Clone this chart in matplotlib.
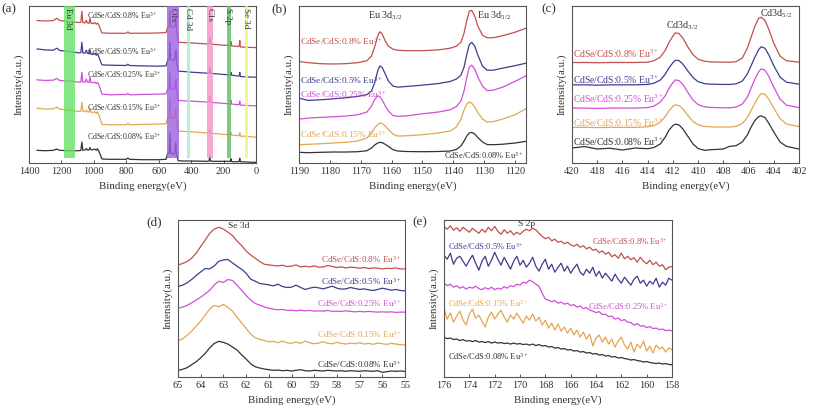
import numpy as np
import matplotlib
matplotlib.use("Agg")
import matplotlib.pyplot as plt

plt.rcParams['font.family'] = ['Liberation Serif', 'DejaVu Serif']
plt.rcParams['mathtext.fontset'] = 'custom'
plt.rcParams['mathtext.rm'] = 'Liberation Serif'
plt.rcParams['mathtext.it'] = 'Liberation Serif:italic'

samples = ['CdSe/CdS:0.8% Eu', 'CdSe/CdS:0.5% Eu', 'CdSe/CdS:0.25% Eu',
           'CdSe/CdS:0.15% Eu', 'CdSe/CdS:0.08% Eu']
colors = ['#c0504d', '#3d3d8f', '#d050d8', '#e2a654', '#333333']

# ---------------- (a) survey ----------------
energy_a = [1350, 1300, 1250, 1228, 1220, 1210, 1150, 1090, 1080, 1074, 1068, 1055, 1046, 1040,
            1030, 1024, 1018, 1005, 995, 985, 978, 970, 962, 950, 900, 800, 790, 780, 700, 600,
            555, 545, 535, 531, 527, 520, 505, 499, 495, 490, 480, 450, 400, 300, 289, 285, 281,
            270, 200, 158, 155, 152, 145, 110, 103, 100, 97, 60, 20, 0]
a_08p = [142.7, 142.3, 142.7, 145.0, 144.0, 142.7, 141.7, 140.7, 141.0, 152.0, 140.7, 140.3, 143.0, 140.3,
         140.0, 145.0, 140.0, 139.7, 140.7, 139.0, 140.3, 138.7, 135.0, 130.3, 130.0, 130.0, 131.3, 130.0, 130.0, 130.3,
         130.7, 136.0, 137.0, 152.0, 137.0, 136.0, 135.7, 138.0, 145.0, 135.0, 121.0, 120.7, 120.3, 119.3, 119.7, 126.0, 119.3,
         119.0, 118.0, 117.7, 121.7, 117.3, 117.3, 116.7, 117.3, 122.7, 116.3, 116.0, 115.7, 115.7]
a_05p = [114.3, 113.3, 113.0, 115.0, 114.0, 112.7, 111.7, 110.3, 110.7, 121.0, 110.3, 110.0, 113.0, 110.0,
         109.3, 113.5, 109.3, 108.7, 109.7, 108.0, 109.3, 106.7, 103.0, 98.3, 98.0, 97.7, 99.0, 97.7, 97.3, 97.0,
         97.3, 103.0, 104.0, 121.0, 104.0, 103.0, 102.7, 105.0, 113.0, 102.0, 92.0, 91.7, 91.0, 90.0, 90.3, 95.0, 90.0,
         89.7, 88.7, 88.3, 91.0, 88.0, 88.0, 87.0, 87.7, 90.7, 86.7, 86.3, 86.0, 86.0]
a_025p = [83.3, 82.7, 83.0, 84.7, 83.7, 82.7, 82.0, 81.0, 81.3, 91.0, 81.0, 81.0, 84.0, 81.0,
          80.7, 86.0, 80.7, 80.3, 81.0, 79.7, 80.7, 78.7, 75.0, 69.0, 68.3, 68.7, 69.7, 68.3, 68.7, 69.0,
          69.3, 74.0, 75.0, 92.0, 75.0, 74.0, 73.7, 76.0, 84.0, 73.0, 62.7, 62.3, 62.0, 61.0, 61.3, 67.0, 61.0,
          60.7, 59.7, 59.3, 63.0, 59.0, 59.0, 58.3, 59.0, 62.0, 58.0, 57.7, 57.3, 57.3]
a_015p = [55.0, 54.0, 54.3, 56.0, 55.0, 54.0, 52.7, 51.7, 52.0, 61.0, 52.0, 51.5, 53.0, 51.3,
          51.0, 55.0, 51.0, 50.5, 51.5, 49.7, 51.3, 48.3, 45.0, 38.7, 38.3, 38.3, 39.7, 38.3, 38.7, 39.0,
          39.3, 45.0, 46.0, 63.3, 46.0, 45.0, 44.7, 47.0, 55.0, 44.0, 32.0, 31.7, 31.3, 30.0, 30.3, 35.0, 30.0,
          29.7, 28.7, 28.3, 30.7, 28.0, 28.0, 27.3, 28.0, 30.3, 27.0, 26.7, 26.0, 26.0]
a_008p = [12.7, 12.3, 12.7, 14.0, 13.3, 12.7, 12.3, 12.3, 12.7, 21.0, 12.7, 13.0, 14.5, 13.0,
          13.0, 15.5, 13.3, 13.3, 14.0, 12.7, 14.3, 12.0, 9.0, 4.0, 3.7, 3.7, 5.0, 3.7, 3.3, 3.3,
          3.7, 9.3, 10.0, 30.7, 11.0, 9.3, 9.0, 12.0, 20.0, 9.0, 2.3, 2.0, 2.0, 1.7, 2.0, 7.3, 2.0,
          1.7, 1.7, 1.7, 4.3, 1.7, 1.3, 1.3, 2.0, 4.7, 1.3, 1.0, 0.7, 0.7]

bands_a = [('Eu 3d', 1185, 1115, '#66e066', 1157), ('O1s', 550, 475, '#9b5fe0', 514),
           ('Cd 3d', 425, 405, '#9ff0c4', 417), ('C1s', 300, 265, '#f295c8', 288),
           ('S 2p', 178, 153, '#5cbf62', 170), ('Se 3d', 67, 48, '#f4f474', 64)]

# ---------------- (b) Eu 3d ----------------
energy_b = [1190, 1187, 1183, 1179, 1175, 1171, 1168, 1166.5, 1165.5, 1164.5, 1163.8, 1163, 1162, 1161,
            1159.5, 1158, 1155, 1150, 1145, 1141, 1139, 1137.5, 1136.5, 1135.5, 1134.8, 1134, 1133,
            1132, 1130.5, 1129, 1127, 1124, 1120, 1116.4]
b_08p = [101.7, 100.5, 99.5, 99.2, 99.5, 100.5, 102.5, 107, 116, 127, 131.5, 129, 122, 117,
         114, 113, 112.5, 112.5, 113.3, 115, 117, 121, 130, 144, 152, 153, 147,
         137, 128, 125.5, 125.5, 127.5, 131, 135]
b_05p = [65.0, 62.7, 63.3, 64.3, 65.3, 66.7, 68.5, 72, 80, 92, 97.3, 95.5, 89, 82,
         77, 76, 76.7, 78, 79.5, 81.7, 84, 88, 96, 110, 118.5, 121, 117,
         108, 97, 93, 93, 95, 97.5, 100]
b_025p = [44.0, 45, 45.7, 46.3, 47, 48.3, 51, 57, 63.5, 67.3, 66.5, 63, 57, 52,
          47.5, 46.7, 47.3, 49.3, 51, 53.3, 56.5, 62, 72, 87, 96, 98, 94,
          86, 77, 72.5, 73, 76, 81.7, 87.3]
b_015p = [18.3, 18.7, 19.3, 20, 20.7, 22, 25, 30, 35, 38.5, 40, 39.5, 37, 33.5,
          29, 27, 27.3, 28.3, 30, 32, 36, 44, 53, 59.5, 61, 60, 56,
          50.5, 44, 41, 41.5, 44, 48.3, 54.3]
b_008p = [10.7, 10.3, 10.7, 11, 11, 11.3, 12.3, 15, 18, 20, 20.7, 20.3, 18.7, 16.5,
          13.3, 12, 11.5, 11.3, 11.5, 12, 13.5, 17, 22, 27.5, 30, 30.7, 29,
          25.5, 21, 18.5, 18.3, 18.8, 20, 21.7]

# ---------------- (c) Cd 3d ----------------
energy_c = [420, 419, 418, 417, 416, 415, 414, 413.5, 413, 412.6, 412.3, 412, 411.8, 411.5, 411.2,
            410.8, 410.4, 410, 409.5, 409, 408, 407.5, 407, 406.5, 406.1, 405.8, 405.5, 405.2,
            405, 404.7, 404.4, 404, 403.5, 403, 402]
c_08p = [100.7, 100.7, 100.5, 100.7, 100.7, 100.7, 101, 102.5, 106, 113, 121, 127, 130.5, 129.5, 125,
         116, 108.5, 104, 102, 101.3, 101, 101, 101.5, 105, 115, 126, 137, 145,
         146, 143, 134, 120, 107, 102.5, 101]
c_05p = [78.3, 78.3, 78, 78.3, 78.3, 78.3, 78.7, 80, 83, 89, 95.5, 100.5, 103, 102.5, 99,
         92, 85.5, 81.5, 79.5, 79, 78.7, 78.7, 79.3, 82, 89, 97.5, 106, 113.5,
         116.5, 115, 108.5, 97.5, 86, 81, 79]
c_025p = [55, 55, 54.7, 55, 55, 55, 55.5, 57, 61, 67.5, 75, 80.5, 83.3, 82.5, 78.5,
          70.5, 63, 58.5, 56.3, 55.7, 55.3, 55.3, 56, 59, 66, 75, 84, 91.5,
          94.3, 93, 87, 76, 64, 58, 55.5]
c_015p = [35.7, 35.7, 35.5, 35.7, 35.7, 35.7, 36.2, 37.5, 41, 46.5, 52.5, 56.8, 58.3, 57.5, 54,
          47.5, 41.5, 38.3, 36.7, 36.2, 36, 36, 36.7, 39.5, 45.5, 52.5, 60, 66.5,
          69.5, 69, 64, 55, 44.5, 39, 36.5]
c_008p = [15, 16.5, 14, 14.8, 13, 15, 14.3, 15.5, 19, 26, 33, 37.5, 39, 38, 34,
          26.5, 19, 14.5, 12.7, 13.3, 14, 16.7, 17.3, 21, 28, 36, 42.5, 46.5,
          47.3, 45.5, 40, 31, 21, 16.7, 14]

# ---------------- (d) Se 3d (65 -> 55 eV, 0.2 eV steps) ----------------
d_08p = [112.3, 113.7, 115.7, 119, 124, 130.7, 137.3, 144, 148.3, 150, 148.3, 145, 141.7, 136.3, 131.7,
         126.3, 122.3, 119, 115.7, 113, 112.3, 111.7, 111.3, 112, 110.7, 111, 112.3, 110.3, 111, 110.3,
         111.3, 110, 110.3, 111.7, 110.7, 109.7, 110.3, 109.3, 110, 109.7, 109, 109.7, 108.7, 109.3,
         109, 108.3, 109, 108.7, 109.3, 108.3, 108.3]
d_05p = [90.7, 92, 94.3, 97.7, 101.7, 105.3, 108.7, 108.3, 111.3, 116, 117.3, 117.7, 114.3, 111, 108,
         104, 98, 96, 93.7, 93, 92.3, 91.3, 93, 90.7, 89.7, 90, 92, 89.7, 87.7, 89,
         90, 89.3, 88.3, 89.7, 91, 89, 88, 88.3, 89.7, 88.7, 87.7, 88.3, 87.3, 86.7,
         87.7, 89, 88, 87, 87.7, 86.7, 86.3]
d_025p = [69, 70, 71.7, 74.3, 77, 80, 83.3, 87, 92.3, 96, 94.7, 97.7, 96.7, 92, 87,
          81.7, 77, 73.7, 72, 70.3, 69, 68, 67.3, 67.7, 66.7, 67, 66.3, 67, 66.3, 66.7,
          66, 66.3, 66, 66.7, 65.7, 66, 65.7, 66.3, 65.7, 65.3, 65.7, 65.3, 65.7, 65.3,
          65, 65.3, 65, 65.3, 64.7, 65, 65]
d_015p = [36.3, 38.3, 41.7, 46, 51, 56, 62, 68.3, 71.7, 70.3, 72.7, 69.7, 66, 60, 54.3,
          48.7, 43, 39.3, 37.7, 36.7, 35.3, 35.7, 34.3, 36, 34.3, 33.7, 35, 33.7, 36, 34.3,
          33.3, 34, 35.3, 33.7, 33.3, 34.7, 33.7, 33, 34, 33.3, 34.3, 33, 33.7, 32.7,
          34, 33.3, 32.7, 33.7, 33, 32.3, 32.3]
d_008p = [6.7, 7.7, 9.3, 12.3, 15.3, 19.3, 23.7, 29.3, 33.7, 35.7, 34.7, 33, 30, 27, 22.3,
          18, 13.3, 10.3, 9, 8, 7.3, 6.7, 7, 6.3, 6.7, 6, 6.7, 7.3, 6.3, 6,
          6.7, 6.3, 6, 6.7, 6.3, 6, 6.3, 5.7, 6.3, 6, 5.7, 6.3, 6, 5.7,
          6.3, 4.7, 5.3, 6, 5.7, 6, 5.7]

# ---------------- (e) S 2p (176 -> 158 eV, 0.25 eV steps) ----------------
e_08p = [150.7, 148, 151.5, 147, 149.5, 146, 150, 147.5, 145, 149, 146.5, 144, 148, 145, 150, 146.5,
         151, 146, 143, 147.5, 144, 146.5, 142.5, 145, 143, 146, 148, 146.5, 149, 147.5, 144, 141,
         138.5, 140, 136.5, 138, 135, 136, 133.5, 135, 132.5, 131, 133, 130, 131.5, 128.5, 130, 127,
         128, 124.5, 126.5, 123, 125, 120.5, 122.5, 119, 124, 118.5, 121, 117.5, 119.5, 115, 120, 116,
         113.5, 117, 112.5, 115, 111, 112.5, 107.5, 110, 110.7]
e_05p = [122, 118, 124, 113, 119, 121, 116, 111, 117, 122, 114, 107, 116, 121, 111, 117,
         125, 118, 112, 120, 114, 108, 116, 121, 112, 117, 110, 114, 120, 111, 106, 113,
         118, 108, 113, 105, 110, 114, 106, 111, 104, 109, 113, 105, 102, 108, 104, 110,
         101, 106, 99, 104, 100, 96, 103, 98, 94, 100, 96, 92, 98, 101, 94, 97,
         91, 96, 93, 99, 90, 95, 92, 99, 97]
e_025p = [94, 91.5, 93, 90, 91.5, 89, 90.5, 88, 90, 89, 91, 88.5, 87.5, 89.5, 88, 90,
          87.5, 89, 88, 90.5, 89, 91.5, 90.5, 93, 92, 95, 94, 97, 95.5, 93, 91, 84,
          78, 77, 75.5, 76.5, 74, 75, 73, 74, 71.5, 72.5, 70, 71, 68.5, 69.5, 67, 66,
          64.5, 65.5, 62.5, 63, 60.5, 61, 58, 59, 56.5, 57.5, 55, 54.5, 52, 53.5, 51, 51.5,
          49.5, 50.5, 48.5, 49, 47.5, 48, 46.5, 47, 46.3]
e_015p = [69, 58, 64, 55, 61, 66, 57, 52, 63, 68, 59, 62, 56, 50, 60, 65,
          58, 63, 67, 60, 55, 62, 58, 64, 59, 54, 61, 57, 63, 56, 60, 52,
          57, 49, 54, 47, 53, 46, 50, 44, 49, 42, 47, 40, 45, 38, 43, 31,
          39, 42, 35, 40, 33, 38, 30, 36, 40, 32, 28, 35, 25, 33, 29, 36,
          26, 31, 24, 32, 28, 30, 25, 29, 27.3]
e_008p = [39.7, 38.5, 39, 37.5, 38, 36.5, 37.5, 36, 36.5, 35.5, 36.5, 35, 35.5, 34.5, 35.5, 34,
          35, 34, 34.5, 33.5, 34, 33, 34, 33, 33.5, 32.5, 33, 32, 33, 31.5, 32.5, 31,
          31.5, 30, 30.5, 29, 29.5, 28, 28.5, 27, 27.5, 26, 26.5, 25, 25.5, 24, 24.5, 23,
          23.5, 22, 22.5, 21, 21.5, 20, 20.5, 19, 19.5, 18.5, 18, 17, 17.5, 16.5, 16, 15,
          15.5, 14.5, 14, 13.5, 14, 13, 13.5, 12.5, 12.3]

energy_d = np.linspace(65, 55, len(d_08p))
energy_e = np.linspace(176, 158, len(e_08p))

W, H = 8.13, 4.18
fig = plt.figure(figsize=(W, H), dpi=100)

def px_axes(l, t, r, b):
    return fig.add_axes([l / 813, 1 - b / 418, (r - l) / 813, (b - t) / 418])

ax_a = px_axes(29, 6, 256, 163)
ax_b = px_axes(299, 6, 526, 163)
ax_c = px_axes(572, 6, 799, 163)
ax_d = px_axes(178, 220, 405, 377)
ax_e = px_axes(444, 220, 672, 377)

SUP = r'$^{\mathrm{3+}}$'
TICKFS = 7.4
LABFS = 7.8

def style(ax, xlim, ticks):
    ax.set_xlim(*xlim)
    ax.set_ylim(0, 157.3)
    ax.set_xticks(ticks)
    ax.set_yticks([])
    ax.tick_params(axis='x', labelsize=TICKFS, length=2, width=0.6, direction='in', pad=3, colors='#333333')
    for s in ax.spines.values():
        s.set_color('#555555')
        s.set_linewidth(0.8)
    ax.set_xlabel('Binding energy(eV)', fontsize=LABFS, labelpad=4, color='#333333')
    ax.set_ylabel('Intensity(a.u.)', fontsize=LABFS, labelpad=4, color='#333333')

LW = 0.9
# (a)
for y, c in zip([a_08p, a_05p, a_025p, a_015p, a_008p], colors):
    ax_a.plot(energy_a, y, color=c, lw=LW, zorder=2)
for name, x0, x1, col, xt in bands_a:
    ax_a.axvspan(x1, x0, ymin=0.03, ymax=1.0, color=col, alpha=0.8, lw=0, zorder=3)
    ax_a.text(xt, 155, name, rotation=-90, ha='center', va='top', fontsize=6.5, color='#333333', zorder=4)
style(ax_a, (1400, 0), [1400, 1200, 1000, 800, 600, 400, 200, 0])
a_lab_y = [148, 111.7, 88.3, 55.7, 26.7]
for s, yy in zip(samples, a_lab_y):
    ax_a.text(1045, yy, s + SUP, fontsize=5.7, color='#333333', ha='left', va='center', zorder=5)

# (b)
for y, c in zip([b_08p, b_05p, b_025p, b_015p, b_008p], colors):
    ax_b.plot(energy_b, y, color=c, lw=LW)
style(ax_b, (1190, 1116.4), [1190, 1180, 1170, 1160, 1150, 1140, 1130, 1120])
b_lab_y = [121.7, 82.7, 68.3, 28.3]
for s, yy, c in zip(samples[:4], b_lab_y, colors[:4]):
    ax_b.text(1189.6, yy, s + SUP, fontsize=6.7, color=c, ha='left', va='center')
ax_b.text(1117.3, 7.7, samples[4] + SUP, fontsize=6.0, color=colors[4], ha='right', va='center')
ax_b.text(1162, 148, r'Eu 3d$_{3/2}$', fontsize=7.2, color='#333333', ha='center', va='center')
ax_b.text(1126.7, 148, r'Eu 3d$_{5/2}$', fontsize=7.2, color='#333333', ha='center', va='center')

# (c)
for y, c in zip([c_08p, c_05p, c_025p, c_015p, c_008p], colors):
    ax_c.plot(energy_c, y, color=c, lw=LW)
style(ax_c, (420, 402), list(range(420, 401, -2)))
c_lab_y = [109, 83.3, 64, 40.7, 21.7]
for s, yy, c in zip(samples, c_lab_y, colors):
    ax_c.text(419.9, yy, s + SUP, fontsize=6.9, color=c, ha='left', va='center')
ax_c.text(411.25, 137.3, r'Cd3d$_{3/2}$', fontsize=7.2, color='#333333', ha='center', va='center')
ax_c.text(403.8, 149.3, r'Cd3d$_{5/2}$', fontsize=7.2, color='#333333', ha='center', va='center')

# (d)
for y, c in zip([d_08p, d_05p, d_025p, d_015p, d_008p], colors):
    ax_d.plot(energy_d, y, color=c, lw=LW)
style(ax_d, (65, 55), list(range(65, 54, -1)))
d_lab_y = [117.3, 95.7, 73.3, 42.3, 13]
for s, yy, c in zip(samples, d_lab_y, colors):
    ax_d.text(55.15, yy, s + SUP, fontsize=6.5, color=c, ha='right', va='center')
ax_d.text(62.8, 151.7, 'Se 3d', fontsize=6.8, color='#333333', ha='left', va='center')

# (e)
for y, c in zip([e_08p, e_05p, e_025p, e_015p, e_008p], colors):
    ax_e.plot(energy_e, y, color=c, lw=LW)
style(ax_e, (176, 158), list(range(176, 157, -2)))
ax_e.text(158.3, 135.7, samples[0] + SUP, fontsize=6.1, color=colors[0], ha='right', va='center')
ax_e.text(175.7, 130.7, samples[1] + SUP, fontsize=6.1, color=colors[1], ha='left', va='center')
ax_e.text(158.3, 70.7, samples[2] + SUP, fontsize=6.1, color=colors[2], ha='right', va='center')
ax_e.text(175.7, 74, samples[3] + SUP, fontsize=6.1, color=colors[3], ha='left', va='center')
ax_e.text(175.7, 20.7, samples[4] + SUP, fontsize=6.1, color=colors[4], ha='left', va='center')
ax_e.text(169.5, 153, 'S 2p', fontsize=6.8, color='#333333', ha='center', va='center')

# panel letters
for lab, x, y in [('(a)', 1, 9), ('(b)', 271, 9), ('(c)', 541, 9), ('(d)', 146, 222), ('(e)', 412, 222)]:
    fig.text(x / 813, 1 - y / 418, lab, fontsize=9.5, color='#333333', ha='left', va='center')

fig.savefig('out.png', dpi=100)
